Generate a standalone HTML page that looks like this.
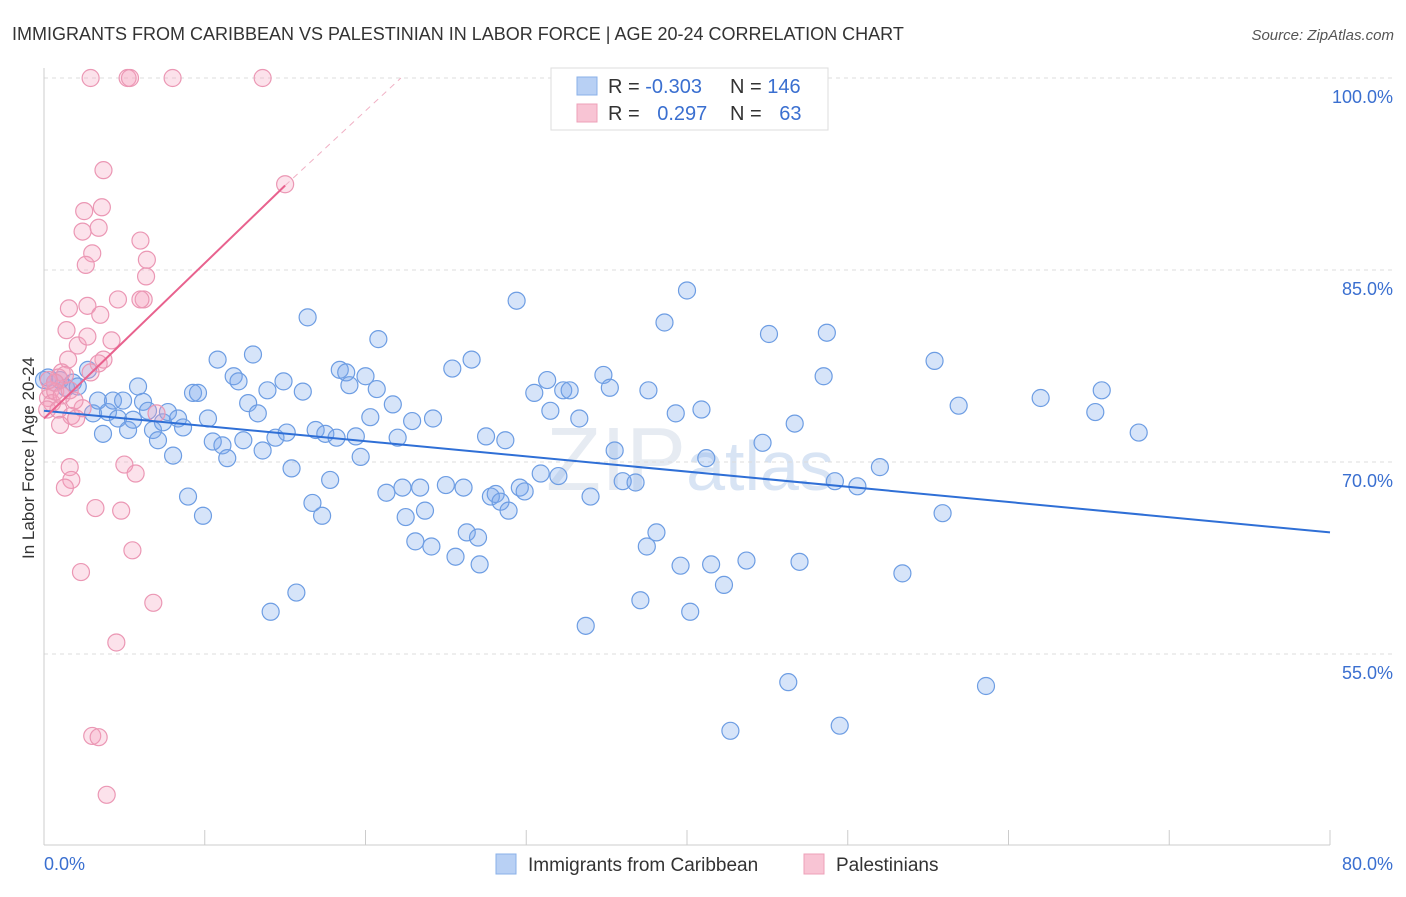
<!DOCTYPE html>
<html><head><meta charset="utf-8"><style>
body{margin:0;background:#fff;font-family:"Liberation Sans",sans-serif}
svg text{font-family:"Liberation Sans",sans-serif}
</style></head><body>
<svg id="chart" width="1406" height="892" xmlns="http://www.w3.org/2000/svg">
<text x="12" y="40" font-size="18" fill="#333">IMMIGRANTS FROM CARIBBEAN VS PALESTINIAN IN LABOR FORCE | AGE 20-24 CORRELATION CHART</text>
<text x="1394" y="40" font-size="15" fill="#555" text-anchor="end" font-style="italic">Source: ZipAtlas.com</text>
<text transform="translate(34,458) rotate(-90)" font-size="17" fill="#333" text-anchor="middle">In Labor Force | Age 20-24</text>
<text x="690" y="490" font-size="90" fill="#e6ebf2" text-anchor="middle" font-family="Liberation Serif">ZIP<tspan fill="#d8e4f4" font-family="Liberation Sans" font-size="70">atlas</tspan></text>
<g id="grid"></g><g id="axes"></g><g id="marks"></g><g id="trends"></g>
<g>
<rect x="551" y="68" width="277" height="62" fill="#fff" stroke="#ddd"/>
<rect x="577" y="77" width="20" height="18" fill="#b8d0f4" stroke="#8ab0e8"/>
<rect x="577" y="104" width="20" height="18" fill="#f8c4d4" stroke="#eea0b8"/>
<text x="608" y="93" font-size="20" fill="#333">R = <tspan fill="#3a6fd0">-0.303</tspan></text>
<text x="730" y="93" font-size="20" fill="#333">N = <tspan fill="#3a6fd0">146</tspan></text>
<text x="608" y="120" font-size="20" fill="#333">R = <tspan fill="#3a6fd0" dx="12">0.297</tspan></text>
<text x="730" y="120" font-size="20" fill="#333">N = <tspan fill="#3a6fd0" dx="12">63</tspan></text>
</g>
<g>
<rect x="496" y="854" width="20" height="20" fill="#b8d0f4" stroke="#8ab0e8"/>
<text x="528" y="871" font-size="19" fill="#333">Immigrants from Caribbean</text>
<rect x="804" y="854" width="20" height="20" fill="#f8c4d4" stroke="#eea0b8"/>
<text x="836" y="871" font-size="19" fill="#333">Palestinians</text>
</g>
</svg>
<script>
const xTicks=[0,10,20,30,40,50,60,70,80];
const yTicks=[55,70,85,100];
const blueX=[0.25,0.68,1.0,1.37,1.8,2.1,2.74,3.05,3.36,3.67,3.98,4.29,4.6,4.92,5.23,5.54,5.85,6.16,6.47,6.78,7.09,7.4,7.71,8.03,8.34,8.65,8.96,9.27,9.58,9.89,10.2,10.5,10.8,11.1,11.4,11.8,12.1,12.4,12.7,13.0,13.3,13.6,13.9,14.1,14.4,14.9,15.1,15.4,15.7,16.1,16.4,16.7,16.9,17.3,17.5,17.8,18.2,18.4,18.8,19.0,19.4,19.7,20.0,20.3,20.7,20.8,21.3,21.7,22.0,22.3,22.5,22.9,23.1,23.4,23.7,24.1,24.2,25.0,25.4,25.6,26.1,26.3,26.6,27.0,27.1,27.5,27.8,28.1,28.4,28.7,28.9,29.4,29.6,29.9,30.5,30.9,31.3,31.5,32.0,32.3,32.7,33.3,33.7,34.0,34.8,35.2,35.5,36.0,36.8,37.1,37.5,37.6,38.1,38.6,39.3,39.6,40.0,40.2,40.9,41.2,41.5,42.3,43.7,44.7,45.1,46.3,46.7,47.0,48.5,48.7,49.2,49.5,50.6,52.0,53.4,55.4,55.9,56.9,58.6,62.0,65.4,65.8,68.1,42.7,0];
const blueY=[76.6,76.2,76.4,75.8,76.2,75.9,77.2,73.8,74.8,72.2,73.9,74.8,73.4,74.8,72.5,73.3,75.9,74.7,74.0,72.5,71.7,73.1,73.9,70.5,73.4,72.7,67.3,75.4,75.4,65.8,73.4,71.6,78.0,71.3,70.3,76.7,76.3,71.7,74.6,78.4,73.8,70.9,75.6,58.3,71.9,76.3,72.3,69.5,59.8,75.5,81.3,66.8,72.5,65.8,72.2,68.6,71.9,77.2,77.0,76.0,72.0,70.4,76.7,73.5,75.7,79.6,67.6,74.5,71.9,68.0,65.7,73.2,63.8,68.0,66.2,63.4,73.4,68.2,77.3,62.6,68.0,64.5,78.0,64.1,62.0,72.0,67.3,67.5,66.9,71.7,66.2,82.6,68.0,67.7,75.4,69.1,76.4,74.0,68.9,75.6,75.6,73.4,57.2,67.3,76.8,75.8,70.9,68.5,68.4,59.2,63.4,75.6,64.5,80.9,73.8,61.9,83.4,58.3,74.1,70.3,62.0,60.4,62.3,71.5,80.0,52.8,73.0,62.2,76.7,80.1,68.5,49.4,68.1,69.6,61.3,77.9,66.0,74.4,52.5,75.0,73.9,75.6,72.3,49.0,76.4];
const pinkX=[2.9,5.2,5.35,8.0,13.6,15.0,3.7,2.5,3.6,2.4,3.4,3.0,2.6,6.0,6.4,6.35,6.2,6.0,4.6,1.55,2.7,3.5,1.4,4.2,2.1,2.7,1.5,3.7,3.4,2.9,1.1,0.9,1.3,0.7,0.4,0.25,0.5,0.2,0.9,1.7,2.0,1.0,2.4,7.0,1.6,1.7,5.0,5.7,1.3,3.2,4.8,5.5,2.3,6.8,4.5,3.0,3.4,3.9,0.7,1.1,1.6,1.9,0.3];
const pinkY=[100,100,100,100,100,91.7,92.8,89.6,89.9,88.0,88.3,86.3,85.4,87.3,85.8,84.5,82.7,82.7,82.7,82.0,82.2,81.5,80.3,79.5,79.1,79.8,78.0,78.0,77.7,77.0,77.0,76.6,76.8,76.2,75.6,75.0,74.6,74.1,74.1,73.6,73.4,72.9,74.2,73.8,69.6,68.6,69.8,69.1,68.0,66.4,66.2,63.1,61.4,59.0,55.9,48.6,48.5,44.0,75.5,75.2,75.6,74.8,76.4];
const blueTrend=[[0,74.0],[80,64.5]];
const pinkTrend=[[0,73.4],[15,91.6]];
const pinkDash=[[15,91.6],[22.2,100]];

const X0=44,X1=1330,Y100=78,PPU=12.8;
const sx=v=>X0+v*(X1-X0)/80;
const sy=v=>Y100+(100-v)*PPU;
const NS="http://www.w3.org/2000/svg";
function mk(parent,tag,attrs){const e=document.createElementNS(NS,tag);for(const k in attrs)e.setAttribute(k,attrs[k]);document.getElementById(parent).appendChild(e);return e;}
yTicks.forEach(t=>{
  const l=mk('grid','line',{x1:X0,x2:1394,y1:sy(t),y2:sy(t),stroke:'#ddd','stroke-dasharray':'4,4'});
  
  
  const tx=mk('grid','text',{x:1393,y:sy(t)+25,'font-size':18,fill:'#3a6fd0','text-anchor':'end'});
  tx.textContent=t.toFixed(1)+'%';
  
  
});
const ax=mk('axes','line',{x1:X0,x2:X0,y1:68,y2:845,stroke:'#ccc'});


const bx=mk('axes','line',{x1:X0,x2:X1,y1:845,y2:845,stroke:'#ccc'});


xTicks.forEach(t=>{
  const l=mk('axes','line',{x1:sx(t),x2:sx(t),y1:830,y2:845,stroke:'#ccc'});
  
  
});
[[0,'start'],[80,'end']].forEach(([t,a])=>{
  const tx=mk('axes','text',{x:t==0?44:1393,y:870,'font-size':18,fill:'#3a6fd0','text-anchor':a});
  tx.textContent=t.toFixed(1)+'%';
  
  
});
blueX.forEach((v,i)=>{
  const c=mk('marks','circle',{cx:sx(v),cy:sy(blueY[i]),r:8.5,fill:'rgba(120,165,235,0.3)',stroke:'#6d9de3','stroke-width':1.2});
  
  
});
pinkX.forEach((v,i)=>{
  const c=mk('marks','circle',{cx:sx(v),cy:sy(pinkY[i]),r:8.5,fill:'rgba(245,160,190,0.3)',stroke:'#eb97b4','stroke-width':1.2});
  
  
});
const bt=mk('trends','line',{x1:sx(blueTrend[0][0]),y1:sy(blueTrend[0][1]),x2:sx(blueTrend[1][0]),y2:sy(blueTrend[1][1]),stroke:'#2f6fd6','stroke-width':2});


const pt=mk('trends','line',{x1:sx(pinkTrend[0][0]),y1:sy(pinkTrend[0][1]),x2:sx(pinkTrend[1][0]),y2:sy(pinkTrend[1][1]),stroke:'#e8628e','stroke-width':2});


const pd=mk('trends','line',{x1:sx(pinkDash[0][0]),y1:sy(pinkDash[0][1]),x2:sx(pinkDash[1][0]),y2:sy(pinkDash[1][1]),stroke:'#f0b0c4','stroke-width':1,'stroke-dasharray':'6,5'});


</script>
</body></html>
